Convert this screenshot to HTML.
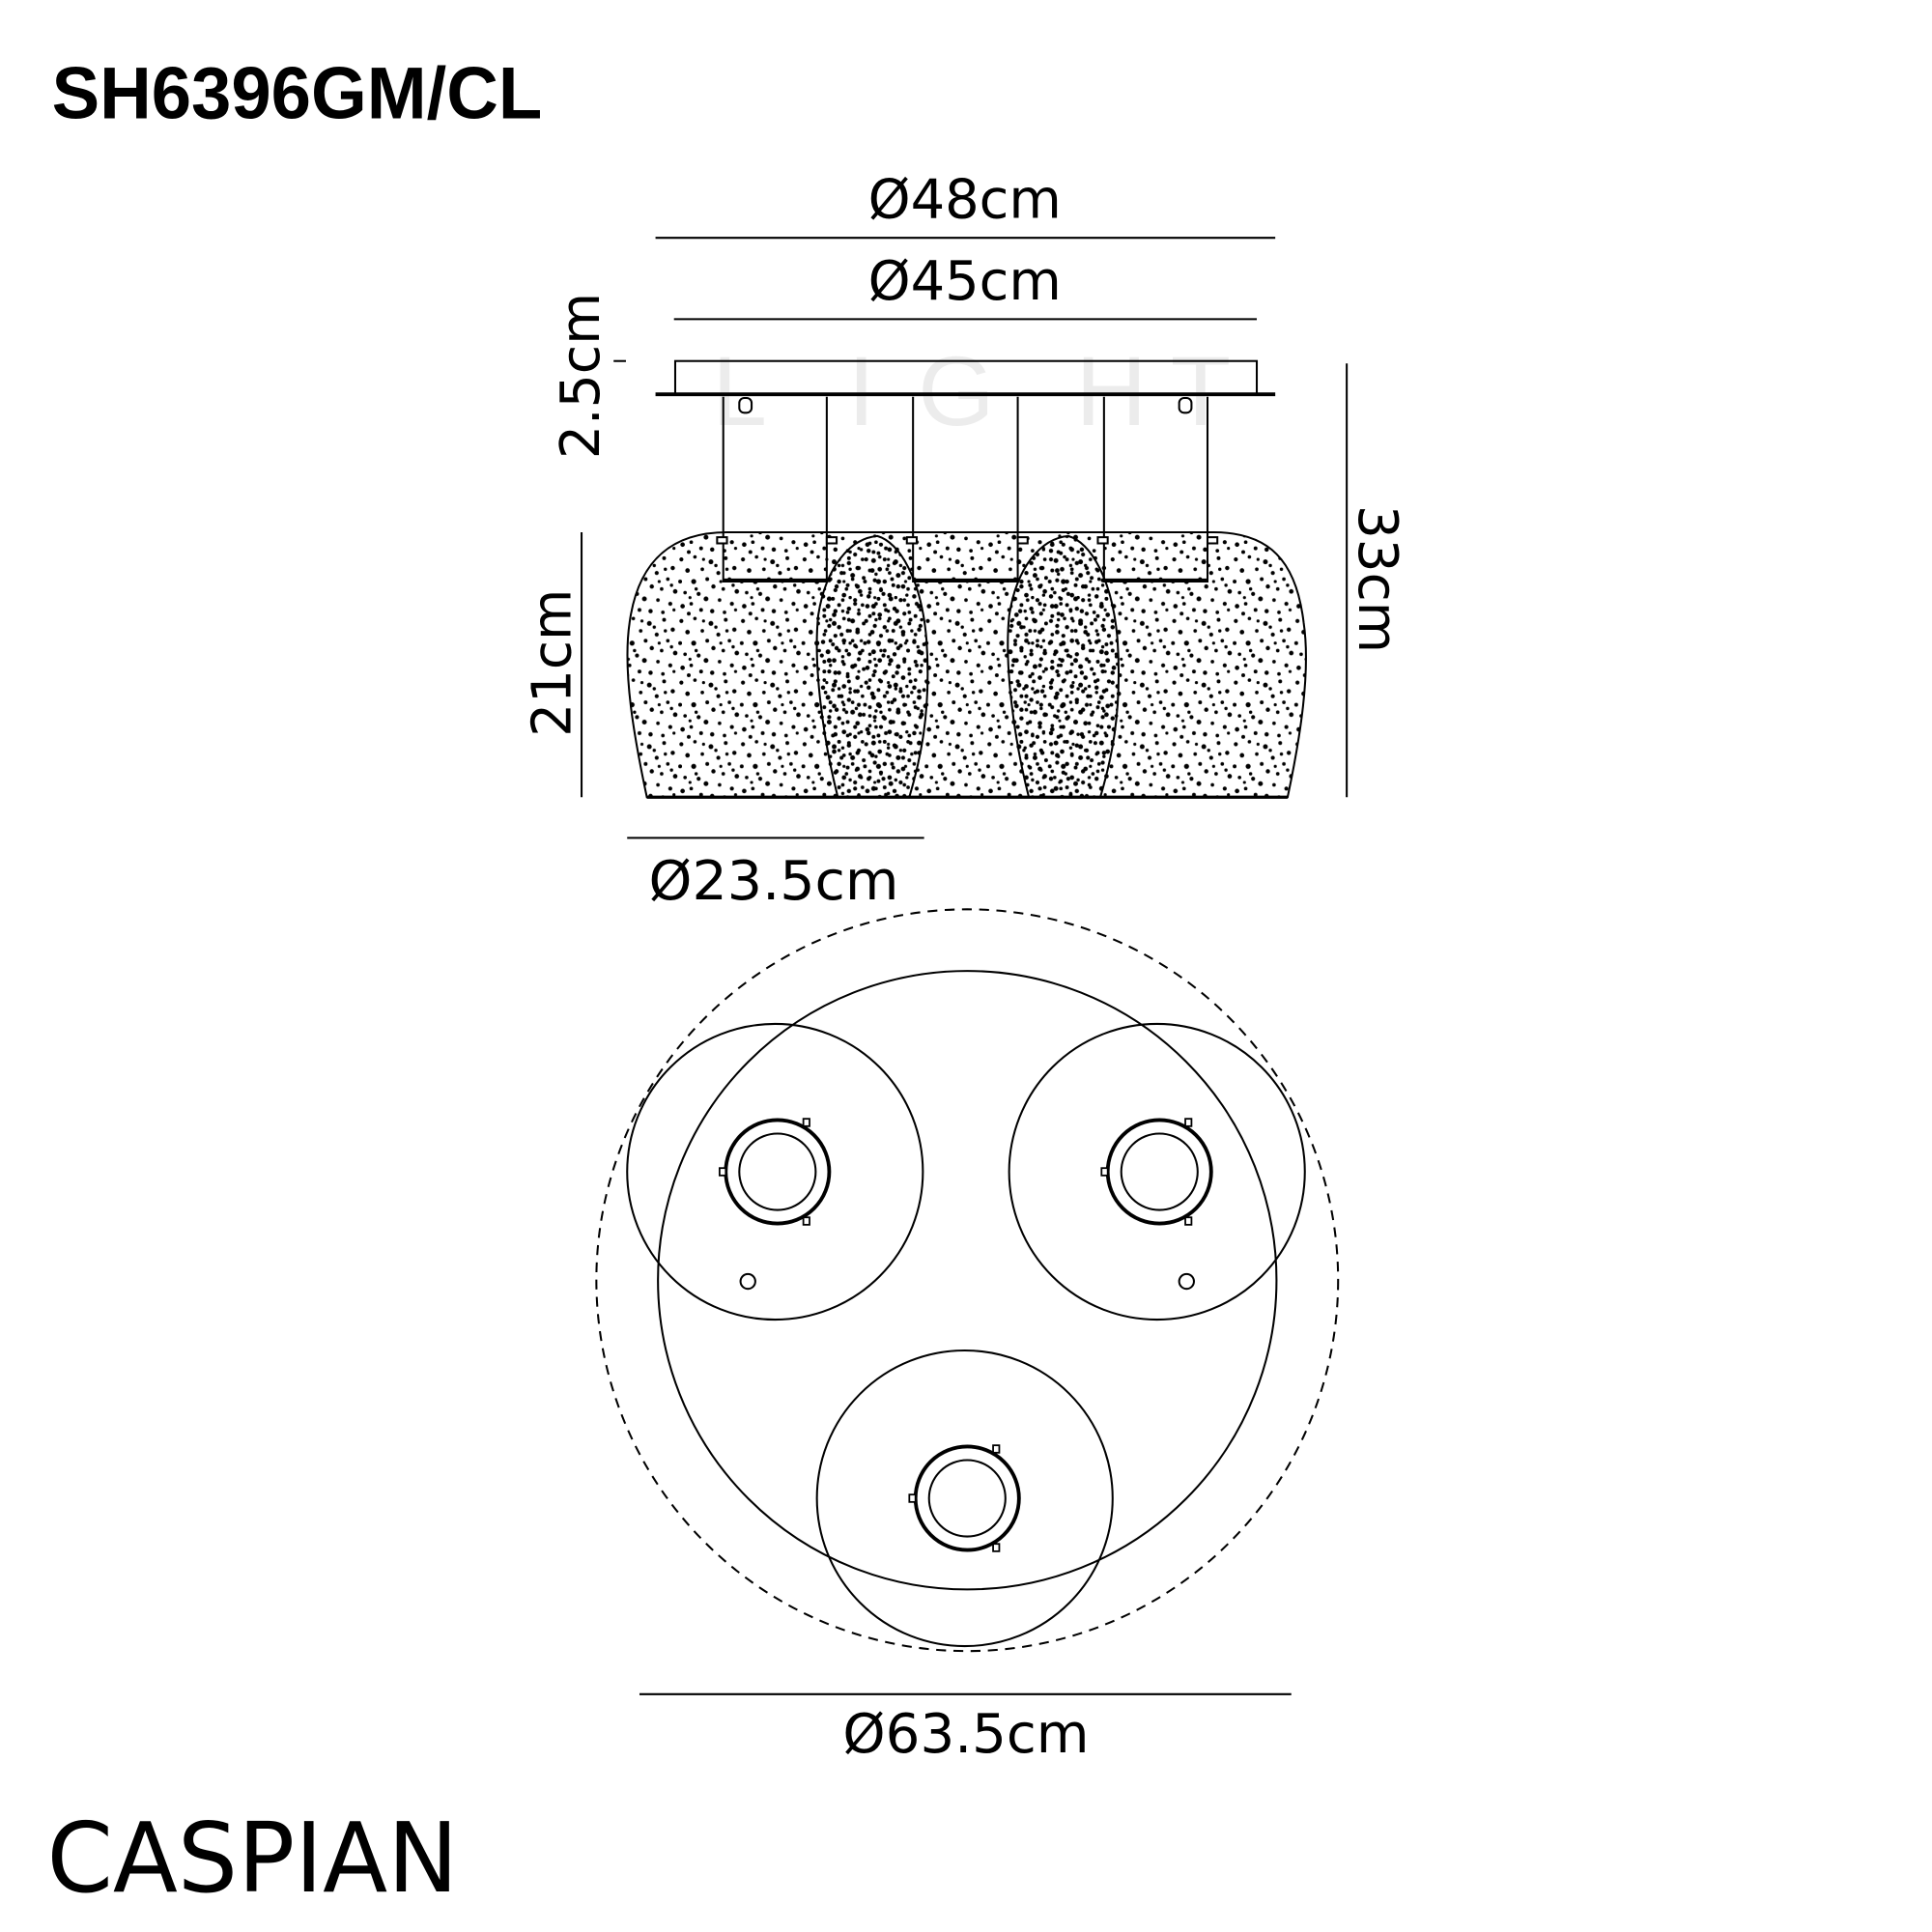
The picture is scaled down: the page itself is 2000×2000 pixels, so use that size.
<!DOCTYPE html>
<html><head><meta charset="utf-8"><style>html,body{margin:0;padding:0;background:#fff}svg{display:block}</style></head>
<body>
<svg width="2000" height="2000" viewBox="0 0 1568 1568" xmlns="http://www.w3.org/2000/svg" font-family="'DejaVu Sans','Liberation Sans',sans-serif">
<defs>
<pattern id="pA" width="50" height="50" patternUnits="userSpaceOnUse">
<g fill="#000" stroke="#000" stroke-width="1.3">
<circle cx="3" cy="4" r="1"/><circle cx="14" cy="2" r="0.8"/><circle cx="27" cy="6" r="1.3"/><circle cx="39" cy="3" r="0.9"/><circle cx="46" cy="11" r="1.1"/>
<circle cx="8" cy="13" r="1.2"/><circle cx="20" cy="12" r="0.8"/><circle cx="33" cy="15" r="1"/><circle cx="42" cy="20" r="0.8"/><circle cx="2" cy="22" r="0.9"/>
<circle cx="13" cy="22" r="1.4"/><circle cx="24" cy="20" r="0.9"/><circle cx="29" cy="26" r="1.1"/><circle cx="37" cy="28" r="0.8"/><circle cx="48" cy="30" r="1.2"/>
<circle cx="6" cy="31" r="0.8"/><circle cx="17" cy="32" r="1"/><circle cx="23" cy="36" r="1.3"/><circle cx="34" cy="37" r="0.8"/><circle cx="44" cy="40" r="1"/>
<circle cx="4" cy="42" r="1.2"/><circle cx="11" cy="40" r="0.8"/><circle cx="19" cy="45" r="0.9"/><circle cx="28" cy="46" r="1.1"/><circle cx="38" cy="47" r="0.8"/>
<circle cx="9" cy="48" r="0.9"/><circle cx="31" cy="9" r="0.7"/><circle cx="45" cy="25" r="0.7"/><circle cx="15" cy="28" r="0.7"/><circle cx="40" cy="12" r="0.7"/>
<circle cx="21" cy="4" r="0.6"/><circle cx="35" cy="22" r="0.6"/><circle cx="10" cy="35" r="0.6"/><circle cx="47" cy="45" r="0.6"/>
</g></pattern>
<pattern id="pB" width="37" height="37" patternUnits="userSpaceOnUse">
<g fill="#000" stroke="#000" stroke-width="1.3">
<circle cx="2" cy="3" r="1.1"/><circle cx="10" cy="5" r="0.9"/><circle cx="19" cy="2" r="1.2"/><circle cx="28" cy="6" r="1"/><circle cx="34" cy="10" r="0.8"/>
<circle cx="6" cy="11" r="1.3"/><circle cx="15" cy="10" r="0.9"/><circle cx="23" cy="13" r="1.1"/><circle cx="31" cy="17" r="1"/><circle cx="3" cy="19" r="0.9"/>
<circle cx="11" cy="18" r="1.2"/><circle cx="19" cy="21" r="0.8"/><circle cx="26" cy="23" r="1.3"/><circle cx="35" cy="25" r="0.9"/><circle cx="7" cy="27" r="1"/>
<circle cx="15" cy="28" r="1.1"/><circle cx="22" cy="31" r="0.9"/><circle cx="30" cy="32" r="1.2"/><circle cx="3" cy="34" r="0.8"/><circle cx="12" cy="35" r="1"/>
<circle cx="24" cy="4" r="0.7"/><circle cx="8" cy="22" r="0.7"/><circle cx="33" cy="2" r="0.7"/><circle cx="18" cy="15" r="0.7"/>
</g></pattern>
</defs>
<text x="42" y="96" font-family="'Liberation Sans',sans-serif" font-weight="bold" font-size="60" textLength="398" lengthAdjust="spacingAndGlyphs">SH6396GM/CL</text>
<g font-size="80" fill="#ececec" font-family="'Liberation Sans',sans-serif">
<text x="578" y="345">L</text><text x="688" y="345">I</text><text x="745" y="345">G</text><text x="873" y="345">H</text><text x="950" y="345">T</text>
</g>
<g font-size="44" text-anchor="middle">
<text x="783" y="177" textLength="157" lengthAdjust="spacingAndGlyphs">Ø48cm</text>
<text x="783" y="243" textLength="157" lengthAdjust="spacingAndGlyphs">Ø45cm</text>
<text x="628" y="730" textLength="203" lengthAdjust="spacingAndGlyphs">Ø23.5cm</text>
<text x="784" y="1422" textLength="200" lengthAdjust="spacingAndGlyphs">Ø63.5cm</text>
<text transform="translate(486,305) rotate(-90)" textLength="135" lengthAdjust="spacingAndGlyphs">2.5cm</text>
<text transform="translate(463,538) rotate(-90)" textLength="120" lengthAdjust="spacingAndGlyphs">21cm</text>
<text transform="translate(1103,470) rotate(90)" textLength="120" lengthAdjust="spacingAndGlyphs">33cm</text>
</g>
<text x="38" y="1535" font-size="78" font-family="'DejaVu Sans',sans-serif" textLength="334" lengthAdjust="spacingAndGlyphs">CASPIAN</text>
<g stroke="#000" fill="none" stroke-width="1.6">
<line x1="532" y1="193" x2="1035" y2="193"/>
<line x1="547" y1="259" x2="1020" y2="259"/>
<line x1="498" y1="293" x2="508" y2="293"/>
<line x1="1093" y1="295" x2="1093" y2="647"/>
<line x1="472" y1="432" x2="472" y2="647"/>
<line x1="509" y1="680" x2="750" y2="680"/>
<line x1="519" y1="1375" x2="1048" y2="1375"/>
<rect x="548" y="293" width="472" height="27"/>
<line x1="532" y1="320" x2="1035" y2="320" stroke-width="3"/>
</g>
<path d="M525,647 C515,600 505,545 511,505 C518,455 545,432 590,432 L985,432 C1030,432 1052,455 1058,505 C1064,545 1055,600 1045,647 Z" fill="url(#pA)"/>
<path d="M680,647 C668,600 660,540 664,500 C670,460 690,437 712,435 C730,440 748,470 752,520 C756,580 746,620 738,647 Z" fill="url(#pB)"/>
<path d="M835,647 C823,600 815,540 819,500 C825,460 845,437 867,435 C885,440 903,470 907,520 C911,580 901,620 893,647 Z" fill="url(#pB)"/>
<g stroke="#000" fill="none" stroke-width="1.6">
<path d="M525,647 C515,600 505,545 511,505 C518,455 545,432 590,432 L985,432 C1030,432 1052,455 1058,505 C1064,545 1055,600 1045,647 Z"/>
<line x1="525" y1="647" x2="1045" y2="647" stroke-width="2.5"/>
<path d="M680,647 C668,600 660,540 664,500 C670,460 690,437 712,435 C730,440 748,470 752,520 C756,580 746,620 738,647"/>
<path d="M835,647 C823,600 815,540 819,500 C825,460 845,437 867,435 C885,440 903,470 907,520 C911,580 901,620 893,647"/>
<path d="M587,322 V472 H671 V322 M741,322 V472 H826 V322 M896,322 V472 H980 V322"/>
<line x1="587" y1="471" x2="671" y2="471" stroke-width="3"/>
<line x1="741" y1="471" x2="826" y2="471" stroke-width="3"/>
<line x1="896" y1="471" x2="980" y2="471" stroke-width="3"/>
<rect x="600" y="323" width="10" height="12" rx="4"/>
<rect x="957" y="323" width="10" height="12" rx="4"/>
<rect x="582" y="436" width="8" height="5" fill="#fff"/><rect x="671" y="436" width="8" height="5" fill="#fff"/>
<rect x="736" y="436" width="8" height="5" fill="#fff"/><rect x="826" y="436" width="8" height="5" fill="#fff"/>
<rect x="891" y="436" width="8" height="5" fill="#fff"/><rect x="980" y="436" width="8" height="5" fill="#fff"/>
</g>
<g stroke="#000" fill="none" stroke-width="1.6">
<circle cx="785" cy="1039" r="301" stroke-dasharray="8,6"/>
<circle cx="785" cy="1039" r="251"/>
<circle cx="629" cy="951" r="120"/>
<circle cx="939" cy="951" r="120"/>
<circle cx="783" cy="1216" r="120"/>
<circle cx="607" cy="1040" r="6"/>
<circle cx="963" cy="1040" r="6"/>
<circle cx="631" cy="951" r="42" stroke-width="3"/><circle cx="631" cy="951" r="31"/>
<circle cx="941" cy="951" r="42" stroke-width="3"/><circle cx="941" cy="951" r="31"/>
<circle cx="785" cy="1216" r="42" stroke-width="3"/><circle cx="785" cy="1216" r="31"/>
<g fill="#fff" stroke-width="1.4">
<rect x="584" y="948" width="5" height="6"/><rect x="652" y="908" width="5" height="6"/><rect x="652" y="988" width="5" height="6"/>
<rect x="894" y="948" width="5" height="6"/><rect x="962" y="908" width="5" height="6"/><rect x="962" y="988" width="5" height="6"/>
<rect x="738" y="1213" width="5" height="6"/><rect x="806" y="1173" width="5" height="6"/><rect x="806" y="1253" width="5" height="6"/>
</g>
</g>
</svg>
</body></html>
